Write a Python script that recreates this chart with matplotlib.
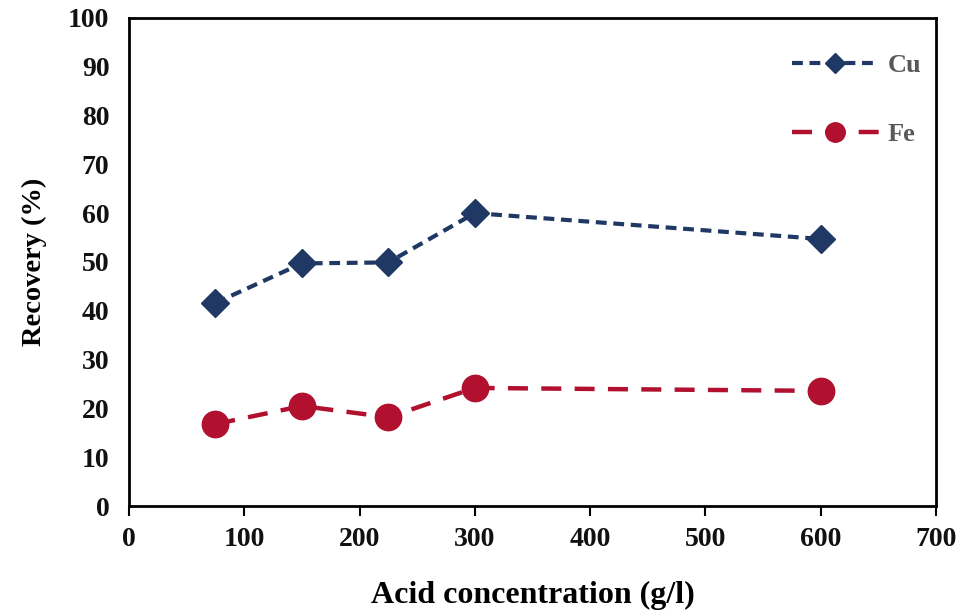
import matplotlib
matplotlib.use("Agg")
import matplotlib.pyplot as plt

# Leaching recovery versus acid concentration
acid_conc = [75, 150, 225, 300, 600]
cu_recovery = [41.6, 49.7, 49.9, 60.0, 54.7]
fe_recovery = [16.8, 20.5, 18.2, 24.2, 23.6]

x_ticks = [0, 100, 200, 300, 400, 500, 600, 700]
y_ticks = [0, 10, 20, 30, 40, 50, 60, 70, 80, 90, 100]

CU_COLOR = "#1F3864"
FE_COLOR = "#B2102F"
SERIF = ["Liberation Serif", "DejaVu Serif"]

fig = plt.figure(figsize=(9.62, 6.12), dpi=100)
ax = fig.add_axes([0.134, 0.173, 0.839, 0.798])

ax.plot(acid_conc, cu_recovery, color=CU_COLOR, lw=3.0, ls=(0, (2.6, 1.6)),
        marker="D", ms=14.5, mec=CU_COLOR, mfc=CU_COLOR, label="Cu")
ax.plot(acid_conc, fe_recovery, color=FE_COLOR, lw=3.2, ls=(0, (4.5, 3.0)),
        marker="o", ms=19, mec=FE_COLOR, mfc=FE_COLOR, label="Fe")

ax.set_xlim(0, 700)
ax.set_ylim(0, 100)
ax.set_xticks(x_ticks)
ax.set_yticks(y_ticks)

for side in ["left", "right", "top", "bottom"]:
    ax.spines[side].set_linewidth(2.0)
    ax.spines[side].set_color("black")

ax.tick_params(axis="x", direction="out", length=7, width=1.5, pad=8)
ax.tick_params(axis="y", length=0, pad=14)

for lbl in ax.get_xticklabels() + ax.get_yticklabels():
    lbl.set_fontfamily(SERIF)
    lbl.set_fontweight("bold")
    lbl.set_fontsize(20)
    lbl.set_color("#111111")

ax.set_xlabel("Acid concentration (g/l)", fontfamily=SERIF, fontweight="bold",
              fontsize=23, labelpad=21)
ax.set_ylabel("Recovery (%)", fontfamily=SERIF, fontweight="bold",
              fontsize=20.5, labelpad=15)

leg = ax.legend(loc="upper right", bbox_to_anchor=(1.005, 0.965), frameon=False,
                labelspacing=1.75, handlelength=3.3, handletextpad=0.35,
                borderaxespad=0.3,
                prop={"family": SERIF, "weight": "bold", "size": 19})
for t in leg.get_texts():
    t.set_color("#595959")
leg.legend_handles[0].set_markersize(10.5)
leg.legend_handles[1].set_markersize(14)

fig.savefig("out.png", dpi=100)
